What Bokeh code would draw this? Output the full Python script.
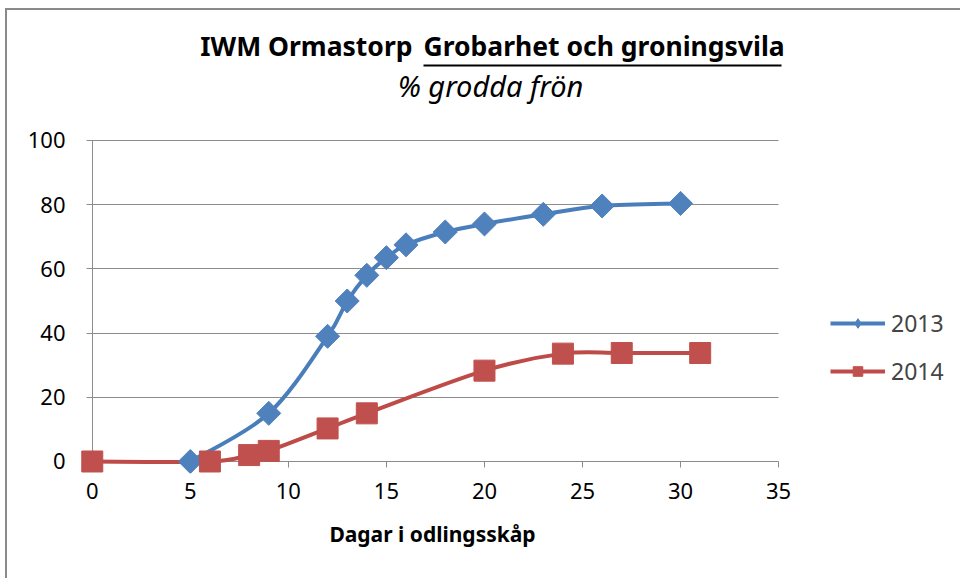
import numpy as np
from bokeh.plotting import figure
from bokeh.models import (ColumnDataSource, Label, Arrow, Legend, LegendItem,
                          FixedTicker, Range1d, Grid)
from bokeh.embed import file_html
from bokeh.resources import INLINE

# ---- data ----
days_2013 = [5, 9, 12, 13, 14, 15, 16, 18, 20, 23, 26, 30]
pct_2013 = [0, 15, 39, 50, 58, 63.5, 67.5, 71.5, 74, 77, 79.6, 80.4]
days_2014 = [0, 6, 8, 9, 12, 14, 20, 24, 27, 31]
pct_2014 = [0, 0, 2, 3.3, 10.3, 15, 28.3, 33.6, 33.8, 33.8]
series_names = ["2013", "2014"]
x_ticks = [0, 5, 10, 15, 20, 25, 30, 35]
y_ticks = [0, 20, 40, 60, 80, 100]

title_plain = "IWM Ormastorp"
title_under = "Grobarhet och groningsvila"
subtitle = "% grodda frön"
x_label = "Dagar i odlingsskåp"

BLUE_LINE, BLUE_FILL = "#4A7EBB", "#4F81BD"
RED_LINE, RED_FILL = "#BE4B48", "#C0504D"
GRID = "#8C8C8C"
FONT = "Noto Sans"

# ---- layout constants (pixels) ----
PX_PER_Y = 3.21          # pixels per percent
FRAME_H = 453
Y_START = -3.74
Y_END = Y_START + FRAME_H / PX_PER_Y
TICK_Y = 6 / PX_PER_Y    # length of x ticks in data units
TICK_X = 6 / 19.6        # length of y ticks in data units


def smooth_segments(xs, ys, t=1.0 / 6.0):
    """Bezier control points for an Excel-like smoothed line."""
    x = np.asarray(xs, float)
    y = np.asarray(ys, float)
    n = len(x)
    d = dict(x0=[], y0=[], x1=[], y1=[], cx0=[], cy0=[], cx1=[], cy1=[])
    for i in range(n - 1):
        p0 = i - 1 if i > 0 else i
        p3 = i + 2 if i + 2 < n else i + 1
        d["x0"].append(x[i]); d["y0"].append(y[i])
        d["x1"].append(x[i + 1]); d["y1"].append(y[i + 1])
        d["cx0"].append(x[i] + (x[i + 1] - x[p0]) * t)
        d["cy0"].append(y[i] + (y[i + 1] - y[p0]) * t)
        d["cx1"].append(x[i + 1] - (x[p3] - x[i]) * t)
        d["cy1"].append(y[i + 1] - (y[p3] - y[i]) * t)
    return ColumnDataSource(d)


p = figure(width=952, height=568, output_backend="svg", toolbar_location=None,
           x_range=Range1d(-0.6, 35.3), y_range=Range1d(Y_START, Y_END),
           min_border_left=73, min_border_right=175,
           min_border_top=10, min_border_bottom=105)
p.frame_width = 704
p.frame_height = FRAME_H
p.outline_line_color = None
p.background_fill_color = "white"
p.border_fill_color = "white"
p.styles = {"border-left": "2px solid #8a8a8a", "border-top": "2px solid #8a8a8a",
            "margin-left": "5px", "margin-top": "8px"}

# horizontal gridlines (also the x-axis line and the y ticks)
p.xgrid.grid_line_color = None
p.ygrid.grid_line_color = GRID
p.ygrid.grid_line_width = 1
p.ygrid.cross_bounds = (-TICK_X, 35)
# y-axis line and x ticks
p.add_layout(Grid(dimension=0, ticker=FixedTicker(ticks=[0]), cross_bounds=(0, 100),
                  grid_line_color=GRID, grid_line_width=1))
p.add_layout(Grid(dimension=0, ticker=FixedTicker(ticks=x_ticks),
                  cross_bounds=(-TICK_Y, 0), grid_line_color=GRID, grid_line_width=1))

# axes: labels only
p.xaxis.ticker = FixedTicker(ticks=x_ticks)
p.yaxis.ticker = FixedTicker(ticks=y_ticks)
for ax in (p.xaxis[0], p.yaxis[0]):
    ax.axis_line_color = None
    ax.major_tick_line_color = None
    ax.major_tick_in = 0
    ax.major_tick_out = 0
    ax.minor_tick_line_color = None
    ax.major_label_text_font = FONT
    ax.major_label_text_font_size = "22px"
    ax.major_label_text_color = "#000000"
p.xaxis.major_label_standoff = 9
p.yaxis.major_label_standoff = 15
p.xaxis.axis_label = x_label
p.xaxis.axis_label_text_font = FONT
p.xaxis.axis_label_text_font_style = "bold"
p.xaxis.axis_label_text_font_size = "21px"
p.xaxis.axis_label_text_color = "#000000"
p.xaxis.axis_label_standoff = 18

# series
s13 = smooth_segments(days_2013, pct_2013)
s14 = smooth_segments(days_2014, pct_2014)
b13 = p.bezier(x0="x0", y0="y0", x1="x1", y1="y1", cx0="cx0", cy0="cy0",
               cx1="cx1", cy1="cy1", source=s13, line_color=BLUE_LINE, line_width=4)
b14 = p.bezier(x0="x0", y0="y0", x1="x1", y1="y1", cx0="cx0", cy0="cy0",
               cx1="cx1", cy1="cy1", source=s14, line_color=RED_LINE, line_width=4)
# diamond symbol for the legend (hidden under the first 2013 marker)
k13 = p.scatter(days_2013[:1], pct_2013[:1], marker="diamond", size=20,
                fill_color=BLUE_FILL, line_color=BLUE_FILL)
m13 = p.scatter(days_2013, pct_2013, marker="square", angle=np.pi / 4, size=17,
                fill_color=BLUE_FILL, line_color=BLUE_FILL)
m14 = p.scatter(days_2014, pct_2014, marker="square", size=21,
                fill_color=RED_FILL, line_color=RED_FILL)

legend = Legend(items=[LegendItem(label=series_names[0], renderers=[b13, k13]),
                       LegendItem(label=series_names[1], renderers=[b14, m14])],
                location=(46, 86), orientation="vertical",
                glyph_width=55, glyph_height=24, label_height=24,
                label_text_font=FONT, label_text_font_size="23px",
                label_standoff=6, spacing=16, padding=0, margin=0,
                border_line_color=None, background_fill_alpha=0)
p.add_layout(legend, "right")

# titles inside the (tall) frame, screen units from the frame's bottom-left
p.add_layout(Label(x=332, y=428, x_units="screen", y_units="screen", text=title_plain,
                   text_align="right", text_baseline="alphabetic", text_font=FONT,
                   text_font_style="bold", text_font_size="26.5px", text_color="#000000"))
p.add_layout(Label(x=343, y=428, x_units="screen", y_units="screen", text=title_under,
                   text_align="left", text_baseline="alphabetic", text_font=FONT,
                   text_font_style="bold", text_font_size="26.5px", text_color="#000000"))
p.add_layout(Arrow(x_start=343, y_start=408, x_end=701, y_end=408,
                   start_units="screen", end_units="screen", start=None, end=None,
                   line_color="#000000", line_width=2))
p.add_layout(Label(x=410, y=388, x_units="screen", y_units="screen", text=subtitle,
                   text_align="center", text_baseline="alphabetic", text_font=FONT,
                   text_font_style="italic", text_font_size="29px", text_color="#000000"))

open("out.html", "w").write(file_html(p, INLINE))
